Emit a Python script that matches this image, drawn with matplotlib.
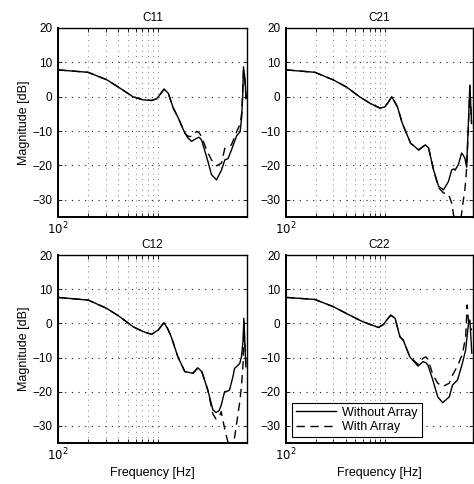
import matplotlib
matplotlib.use("Agg")
import matplotlib.pyplot as plt
from matplotlib.ticker import FixedLocator, NullFormatter

plt.rcParams['font.family'] = ['Liberation Sans', 'DejaVu Sans']
plt.rcParams['font.size'] = 8.5
plt.rcParams['axes.unicode_minus'] = True

# C11
c11_freq = [100, 200, 309, 417, 562, 708, 866, 973, 1060, 1153, 1270, 1425, 1600, 1862,
            2000, 2173, 2438, 2590, 2735, 3069, 3443, 3864, 4335, 4677, 5047, 5450,
            6160, 6653, 6900, 7079, 7194, 7464, 7638]
c11_without = [7.8, 7.1, 4.9, 2.5, 0.0, -0.9, -1.1, -0.6, 0.8, 2.2, 1.0, -3.3, -6.2, -10.6,
               -12.0, -13.0, -12.1, -11.8, -12.6, -17.4, -22.7, -24.2, -21.3, -18.4, -18.0, -15.5,
               -11.3, -10.2, -6.0, 1.0, 8.7, 4.9, -0.3]
c11_with = [7.8, 7.1, 4.9, 2.5, 0.0, -0.9, -1.1, -0.6, 0.8, 2.2, 1.0, -3.3, -6.2, -10.6,
            -11.5, -11.6, -10.1, -10.5, -11.6, -15.5, -18.4, -20.1, -19.3, -15.0, -14.5, -14.0,
            -10.1, -8.0, -4.8, 2.0, 7.5, 4.0, -1.0]

# C21
c21_freq = [100, 196, 300, 410, 554, 707, 890, 1000, 1090, 1175, 1340, 1500, 1820, 2200,
            2570, 2770, 3110, 3500, 3920, 4400, 4750, 5000, 5130, 5540, 5980, 6200, 6460,
            6720, 6980, 7250, 7540]
c21_without = [7.8, 7.1, 4.9, 2.8, 0.0, -1.9, -3.3, -3.0, -1.5, 0.0, -2.9, -7.7, -13.5, -15.5,
               -14.0, -14.9, -21.3, -26.1, -27.1, -24.7, -21.3, -21.0, -21.4, -19.8, -16.4, -17.0, -17.9,
               -20.5, -8.7, 3.4, -7.7]
c21_with = [7.8, 7.1, 4.9, 2.8, 0.0, -1.9, -3.3, -3.0, -1.5, 0.0, -2.9, -7.7, -13.5, -15.5,
            -14.0, -14.9, -21.3, -26.5, -28.0, -28.3, -31.0, -35.0, -38.0, -40.0, -34.0, -30.5, -27.0,
            -21.0, -10.0, 3.0, -8.0]

# C12
c12_freq = [100, 201, 307, 417, 566, 710, 866, 1010, 1148, 1250, 1360, 1585, 1860, 2240,
            2510, 2750, 3160, 3550, 3830, 4100, 4300, 4650, 5010, 5210, 5650, 5850, 6210,
            6600, 6860, 7130, 7250, 7590]
c12_without = [7.6, 6.8, 4.4, 1.9, -1.0, -2.4, -3.2, -1.9, 0.2, -1.5, -3.9, -9.8, -14.1, -14.6,
               -13.0, -14.1, -19.5, -25.3, -26.1, -25.5, -24.0, -20.0, -19.8, -19.5, -15.5, -13.2, -12.5,
               -11.7, -9.8, -5.0, 1.5, -12.7]
c12_with = [7.6, 6.8, 4.4, 1.9, -1.0, -2.4, -3.2, -1.9, 0.2, -1.5, -3.9, -9.8, -14.1, -14.6,
            -13.0, -14.1, -19.5, -26.5, -28.0, -27.5, -25.8, -30.7, -34.6, -37.0, -35.0, -33.5, -28.3,
            -23.0, -18.5, -11.6, 0.5, -12.0]

# C22
c22_freq = [100, 196, 300, 441, 597, 860, 971, 1060, 1148, 1270, 1420, 1535, 1790, 2170,
            2435, 2600, 2730, 3060, 3430, 3850, 4490, 4850, 5430, 6090, 6570, 6810, 7030,
            7250, 7590]
c22_without = [7.6, 7.0, 4.9, 2.4, 0.5, -1.2, -0.3, 1.2, 2.4, 1.5, -3.9, -4.9, -9.8, -12.5,
               -11.2, -11.5, -12.2, -16.6, -21.5, -23.2, -21.5, -18.0, -16.6, -11.7, -7.8, -3.5, 0.1,
               1.0, -8.7]
c22_with = [7.6, 7.0, 4.9, 2.4, 0.5, -1.2, -0.3, 1.2, 2.4, 1.5, -3.9, -4.9, -9.8, -12.0,
            -10.2, -9.8, -10.5, -15.0, -17.5, -18.5, -17.5, -15.1, -12.5, -9.0, -4.0, 5.4, 0.5,
            -1.0, -2.0]

titles = ["C11", "C21", "C12", "C22"]
freqs = [c11_freq, c21_freq, c12_freq, c22_freq]
without = [c11_without, c21_without, c12_without, c22_without]
with_arr = [c11_with, c21_with, c12_with, c22_with]
yticks = [20, 10, 0, -10, -20, -30]
grid_freqs = [200, 300, 400, 500, 600, 700, 800, 900, 1000]

fig = plt.figure(figsize=(4.74, 4.84), dpi=100)
positions = [
    [0.1224, 0.5517, 0.3987, 0.3905],
    [0.6034, 0.5517, 0.3945, 0.3905],
    [0.1224, 0.0847, 0.3987, 0.3884],
    [0.6034, 0.0847, 0.3945, 0.3884],
]

for i, pos in enumerate(positions):
    ax = fig.add_axes(pos)
    ax.set_xscale('log')
    ax.plot(freqs[i], without[i], color='black', lw=1.0, label='Without Array')
    ax.plot(freqs[i], with_arr[i], color='black', lw=1.0, dashes=(6, 4), label='With Array')
    ax.set_xlim(100, 7800)
    ax.set_ylim(-35, 20)

    ax.xaxis.set_major_locator(FixedLocator([100, 1000]))
    ax.xaxis.set_minor_locator(FixedLocator(grid_freqs))
    ax.xaxis.set_minor_formatter(NullFormatter())
    ax.set_xticklabels(['$10^2$', ''])
    ax.set_yticks(yticks)
    ax.tick_params(which='both', direction='in', top=True, right=True, length=3, width=0.6,
                   labelsize=8.5, pad=4)
    ax.tick_params(axis='x', which='major', pad=3)

    # matlab-style dotted grid
    for v in yticks[1:]:
        ax.axhline(v, color='0.1', lw=0.8, ls=(0, (1, 5)), zorder=0)
    for f in [100] + grid_freqs:
        ax.axvline(f, color='0.5', lw=0.7, ls=(0, (1, 4.5)), zorder=0)

    for s in ax.spines.values():
        s.set_linewidth(1.0)
    ax.spines['left'].set_linewidth(1.4)
    ax.spines['bottom'].set_linewidth(1.4)

    ax.set_title(titles[i], fontsize=8.5, pad=5)
    if i % 2 == 0:
        ax.set_ylabel('Magnitude [dB]', fontsize=9, labelpad=2)
    if i >= 2:
        ax.set_xlabel('Frequency [Hz]', fontsize=9, labelpad=2)
    if i == 3:
        leg = ax.legend(loc='lower left', fontsize=9, handlelength=3.2, frameon=True,
                        fancybox=False, borderpad=0.3, labelspacing=0.2,
                        borderaxespad=0.5, handletextpad=0.5)
        leg.get_frame().set_edgecolor('black')
        leg.get_frame().set_linewidth(0.8)
        leg.get_frame().set_alpha(1)

fig.savefig('out.png', dpi=100)
